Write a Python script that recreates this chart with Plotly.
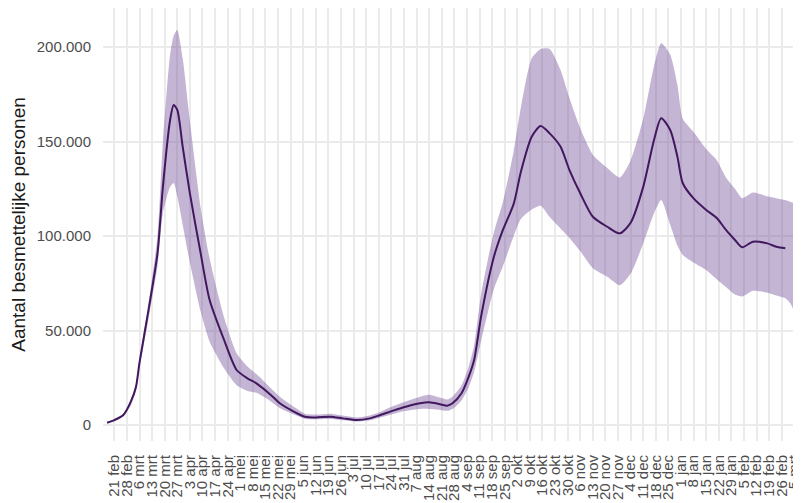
import plotly.graph_objects as go

# Median (central estimate) of number of contagious persons
median_dates = [
    "2020-02-17", "2020-02-21", "2020-02-26", "2020-03-01", "2020-03-04", "2020-03-06",
    "2020-03-11", "2020-03-16", "2020-03-19", "2020-03-23", "2020-03-25", "2020-03-27",
    "2020-03-30", "2020-04-03", "2020-04-09", "2020-04-14", "2020-04-22", "2020-04-29",
    "2020-05-05", "2020-05-10", "2020-05-18", "2020-05-23", "2020-05-31", "2020-06-06",
    "2020-06-12", "2020-06-20", "2020-06-27", "2020-07-05", "2020-07-12", "2020-07-18",
    "2020-07-25", "2020-08-01", "2020-08-09", "2020-08-14", "2020-08-20", "2020-08-24",
    "2020-08-27", "2020-09-01", "2020-09-05", "2020-09-08", "2020-09-12", "2020-09-19",
    "2020-09-24", "2020-09-30", "2020-10-04", "2020-10-10", "2020-10-15", "2020-10-20",
    "2020-10-26", "2020-10-31", "2020-11-06", "2020-11-13", "2020-11-21", "2020-11-28",
    "2020-12-04", "2020-12-11", "2020-12-17", "2020-12-21", "2020-12-26", "2020-12-30",
    "2021-01-02", "2021-01-08", "2021-01-15", "2021-01-21", "2021-01-26", "2021-01-31",
    "2021-02-04", "2021-02-10", "2021-02-18", "2021-02-23", "2021-02-28",
]
median_values = [
    1200, 2600, 5300, 12000, 20000, 33000,
    60800, 90800, 126000, 161400, 169300, 166700,
    147300, 122600, 90800, 66100, 45000, 29100,
    24700, 22000, 15900, 11500, 7000, 4400,
    4000, 4400, 3500, 2600, 3500, 5300,
    7600, 9700, 11500, 12000, 11000, 10200,
    11500, 16800, 25600, 34400, 58000, 89000,
    103200, 117000, 134000, 152500, 158200, 154300,
    147300, 134900, 122600, 110200, 104900, 101400,
    107000, 126000, 150800, 162300, 156100, 142000,
    127900, 119900, 113800, 109400, 103200, 97900,
    94000, 97000, 96100, 94300, 93500,
]

# Uncertainty band
band_dates = median_dates + ["2021-03-03", "2021-03-07"]
upper_values = [
    1500, 3000, 6000, 13000, 22000, 35000,
    64000, 100000, 150000, 196000, 206000, 209000,
    194000, 161000, 115000, 88000, 57000, 38000,
    31000, 27000, 19500, 15000, 9500, 6000,
    5500, 6000, 5000, 4000, 5000, 7000,
    10000, 12500, 15000, 16000, 14500, 13500,
    15000, 21000, 31000, 42000, 70000, 102000,
    118000, 145000, 168000, 194000, 199000, 199000,
    188000, 173000, 157000, 143000, 136000, 131000,
    140000, 162000, 190000, 202000, 196000, 180000,
    162000, 155000, 146000, 140000, 131000, 125000,
    120000, 123000, 121000, 120000, 119000, 118000, 117000,
]
lower_values = [
    900, 2200, 4600, 10000, 18000, 30000,
    56000, 84000, 112000, 126000, 128000, 121000,
    106000, 86000, 60000, 44000, 30000, 21000,
    18000, 17000, 12500, 9000, 5500, 3200,
    3000, 3200, 2500, 1800, 2500, 4000,
    5800, 7500, 8500, 8500, 8000, 7500,
    8500, 13000, 20000, 28000, 45000, 72000,
    84000, 100000, 109000, 114000, 116000, 110000,
    104000, 99000, 92000, 83000, 78500, 74000,
    80000, 96000, 112000, 119000, 106000, 95000,
    90000, 86000, 82000, 77000, 73000, 69000,
    68000, 71000, 70000, 68500, 67000, 64000, 55000,
]

# Weekly x-axis ticks
tick_dates = [
    "2020-02-21", "2020-02-28", "2020-03-06", "2020-03-13", "2020-03-20", "2020-03-27",
    "2020-04-03", "2020-04-10", "2020-04-17", "2020-04-24", "2020-05-01", "2020-05-08",
    "2020-05-15", "2020-05-22", "2020-05-29", "2020-06-05", "2020-06-12", "2020-06-19",
    "2020-06-26", "2020-07-03", "2020-07-10", "2020-07-17", "2020-07-24", "2020-07-31",
    "2020-08-07", "2020-08-14", "2020-08-21", "2020-08-28", "2020-09-04", "2020-09-11",
    "2020-09-18", "2020-09-25", "2020-10-02", "2020-10-09", "2020-10-16", "2020-10-23",
    "2020-10-30", "2020-11-06", "2020-11-13", "2020-11-20", "2020-11-27", "2020-12-04",
    "2020-12-11", "2020-12-18", "2020-12-25", "2021-01-01", "2021-01-08", "2021-01-15",
    "2021-01-22", "2021-01-29", "2021-02-05", "2021-02-12", "2021-02-19", "2021-02-26",
    "2021-03-05",
]
tick_labels = [
    "21 feb", "28 feb", "6 mrt", "13 mrt", "20 mrt", "27 mrt",
    "3 apr", "10 apr", "17 apr", "24 apr", "1 mei", "8 mei",
    "15 mei", "22 mei", "29 mei", "5 jun", "12 jun", "19 jun",
    "26 jun", "3 jul", "10 jul", "17 jul", "24 jul", "31 jul",
    "7 aug", "14 aug", "21 aug", "28 aug", "4 sep", "11 sep",
    "18 sep", "25 sep", "2 okt", "9 okt", "16 okt", "23 okt",
    "30 okt", "6 nov", "13 nov", "20 nov", "27 nov", "4 dec",
    "11 dec", "18 dec", "25 dec", "1 jan", "8 jan", "15 jan",
    "22 jan", "29 jan", "5 feb", "12 feb", "19 feb", "26 feb",
    "5 mrt",
]
y_ticks = [0, 50000, 100000, 150000, 200000]

FILL = "rgba(110,70,150,0.40)"
LINE = "#41175e"

fig = go.Figure()
fig.add_trace(go.Scatter(
    x=band_dates, y=lower_values, mode="lines", line=dict(width=0, shape="spline", smoothing=0.6),
    hoverinfo="skip", showlegend=False,
))
fig.add_trace(go.Scatter(
    x=band_dates, y=upper_values, mode="lines", line=dict(width=0, shape="spline", smoothing=0.6),
    fill="tonexty", fillcolor=FILL, hoverinfo="skip", showlegend=False,
))
fig.add_trace(go.Scatter(
    x=median_dates, y=median_values, mode="lines",
    line=dict(color=LINE, width=2, shape="spline", smoothing=0.7), showlegend=False,
))

# The page body has an 8px margin, so the plot area is placed 8px up/left here.
fig.update_layout(
    width=801, height=503,
    margin=dict(l=95, r=8, t=0, b=70, autoexpand=False),
    paper_bgcolor="white", plot_bgcolor="white",
    font=dict(family="Liberation Sans, Arial, sans-serif", color="#4d4d4d"),
    separators=",.",
    showlegend=False,
)
fig.update_xaxes(
    type="date", automargin=False,
    range=["2020-02-14 17:00", "2021-03-08 17:00"],
    tickmode="array", tickvals=tick_dates, ticktext=tick_labels,
    tickangle=-90, tickfont=dict(size=15, color="#4d4d4d"),
    ticks="outside", ticklen=7, tickcolor="rgba(0,0,0,0)",
    showgrid=True, gridcolor="#ebebeb", gridwidth=1.5,
    zeroline=False, showline=False,
)
fig.update_yaxes(
    automargin=False,
    range=[-8466, 220640],
    tickmode="array", tickvals=y_ticks, tickformat=",d",
    tickfont=dict(size=15, color="#4d4d4d"),
    ticks="outside", ticklen=8, tickcolor="rgba(0,0,0,0)",
    showgrid=True, gridcolor="#ebebeb", gridwidth=1.5,
    zeroline=False, showline=False,
    title=dict(text="Aantal besmettelijke personen", font=dict(size=19, color="#1a1a1a"), standoff=6),
)

fig.write_html("out.html")
